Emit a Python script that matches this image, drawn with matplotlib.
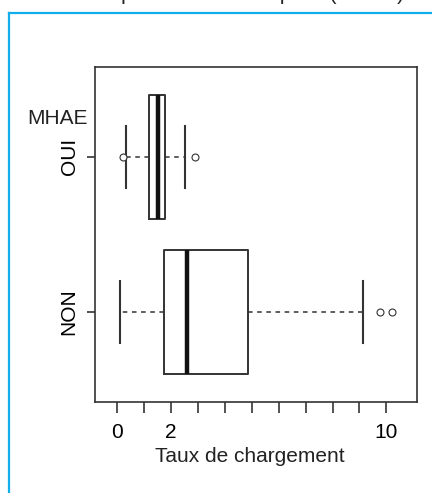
import matplotlib
matplotlib.use("Agg")
import matplotlib.pyplot as plt
from matplotlib.lines import Line2D

# Font a la Arial
plt.rcParams['font.family'] = ['Liberation Sans', 'DejaVu Sans']

# data (Taux de chargement)
groups = ["NON", "OUI"]
whis_lo = [0.10, 0.31]
q1 = [1.74, 1.19]
medians = [2.60, 1.50]
q3 = [4.85, 1.78]
whis_hi = [9.13, 2.51]
fliers = [[9.77, 10.22], [0.22, 2.90]]

xticks = [0, 1, 2, 3, 4, 5, 6, 7, 8, 9, 10]
xticklabels = ["0", "", "2", "", "", "", "", "", "", "", "10"]

stats = []
for i in range(len(groups)):
    stats.append(dict(whislo=whis_lo[i], q1=q1[i], med=medians[i], q3=q3[i],
                      whishi=whis_hi[i], fliers=fliers[i], label=groups[i]))

fig = plt.figure(figsize=(4.32, 4.93), dpi=100)
ax = fig.add_axes([0.2206, 0.1846, 0.7447, 0.6795])

edge = "#333333"
fs = 15
ax.bxp(stats, positions=[1, 2], widths=0.8, vert=False, capwidths=0.4,
       boxprops=dict(color=edge, linewidth=1.4),
       medianprops=dict(color="#111111", linewidth=3.2, solid_capstyle="butt"),
       whiskerprops=dict(color=edge, linewidth=1.1, linestyle=(0, (3, 3))),
       capprops=dict(color=edge, linewidth=1.5),
       flierprops=dict(marker="o", markerfacecolor="white", markeredgecolor=edge,
                       markersize=5, markeredgewidth=0.8))

ax.set_xlim(-0.818, 11.14)
ax.set_ylim(0.42, 2.578)

ax.set_xticks(xticks)
ax.set_xticklabels(xticklabels, fontsize=fs)
ax.set_yticks([1, 2])
ax.set_yticklabels(groups, fontsize=fs, rotation=90, va="center")
ax.tick_params(axis="x", length=8, width=1.3, color="#444444", pad=7)
ax.tick_params(axis="y", length=6, width=1.3, color="#444444", pad=6)

for s in ax.spines.values():
    s.set_color(edge)
    s.set_linewidth(1.2)

ax.set_xlabel("Taux de chargement", fontsize=fs, color="#222222")
ax.xaxis.set_label_coords(0.481, -0.135)

# group title on the left
fig.text(88 / 432, 1 - 118 / 493, "MHAE", fontsize=fs, ha="right", va="center",
         color="#222222")

# cyan frame (open on right and bottom)
cyan = "#12AEEB"
fig.add_artist(Line2D([9 / 432, 9 / 432], [0, 1 - 13 / 493], color=cyan, lw=1.6,
                      transform=fig.transFigure))
fig.add_artist(Line2D([9 / 432, 1], [1 - 13 / 493, 1 - 13 / 493], color=cyan, lw=1.6,
                      transform=fig.transFigure))

# title cut off at the top of the image, only the descenders show
fig.text(404 / 432, 1.0, "Comparaison des boxplots (MHAE)", fontsize=fs,
         ha="right", va="baseline", color="#222222")

fig.savefig("out.png", dpi=100)
